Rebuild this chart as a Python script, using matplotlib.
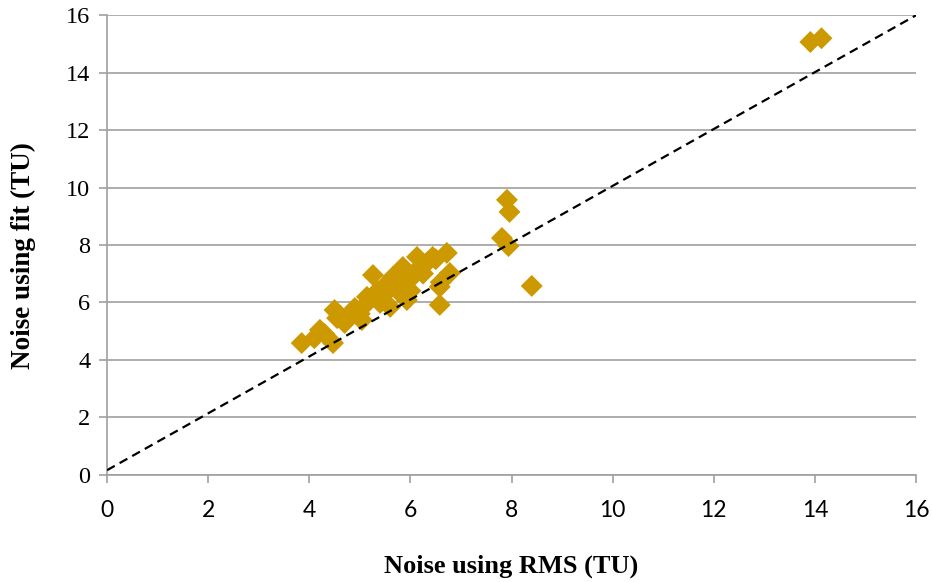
import matplotlib
matplotlib.use("Agg")
import matplotlib.pyplot as plt

# Noise estimates (TU)
rms_noise = [3.85, 4.10, 4.21, 4.30, 4.47, 4.50, 4.55, 4.60, 4.70, 4.80,
             4.86, 4.90, 5.00, 5.04, 5.10, 5.14, 5.20, 5.26, 5.30, 5.35,
             5.40, 5.45, 5.50, 5.59, 5.60, 5.65, 5.70, 5.79, 5.80, 5.85,
             5.93, 6.00, 6.05, 6.13, 6.19, 6.25, 6.32, 6.44, 6.50, 6.58,
             6.58, 6.60, 6.72, 6.78, 7.81, 7.91, 7.94, 7.96, 8.40, 13.91,
             14.13]
fit_noise = [4.58, 4.75, 5.04, 4.90, 4.58, 5.73, 5.45, 5.55, 5.28, 5.50,
             5.63, 5.80, 5.60, 5.38, 5.90, 6.19, 6.10, 6.95, 6.20, 6.40,
             5.98, 6.50, 6.30, 6.54, 5.84, 6.88, 6.70, 6.33, 6.60, 7.23,
             6.08, 6.40, 6.90, 7.58, 7.23, 7.00, 7.37, 7.58, 7.50, 6.54,
             5.91, 6.70, 7.72, 7.02, 8.24, 9.57, 7.96, 9.15, 6.57, 15.07,
             15.20]

# reference line
line_x = [0, 16]
line_y = [0.15, 16.0]

ticks = [0, 2, 4, 6, 8, 10, 12, 14, 16]

fig = plt.figure(figsize=(9.33, 5.82), dpi=100)
ax = fig.add_axes([0.1147, 0.1847, 0.8671, 0.789])

ax.scatter(rms_noise, fit_noise, marker="D", s=125, color="#CC9900",
           edgecolors="none", zorder=3)
ax.plot(line_x, line_y, color="black", linestyle=(0, (4, 2.5)), linewidth=1.6,
        zorder=4)

ax.set_xlim(0, 16)
ax.set_ylim(0, 16)
ax.set_xticks(ticks)
ax.set_yticks(ticks)
ax.grid(True, axis="y", color="#A0A0A0", linewidth=1.2, zorder=0)
ax.set_axisbelow(True)

for side in ("top", "right"):
    ax.spines[side].set_visible(False)
for side in ("left", "bottom"):
    ax.spines[side].set_color("#A0A0A0")
    ax.spines[side].set_linewidth(1.2)

ax.tick_params(axis="both", color="#A0A0A0", width=1.2, length=6)
ax.tick_params(axis="x", pad=12)
ax.tick_params(axis="y", pad=6)
for lab in ax.get_yticklabels():
    lab.set_fontfamily("Liberation Serif")
    lab.set_fontsize(17.5)
for lab in ax.get_xticklabels():
    lab.set_fontfamily("Lato")
    lab.set_fontsize(16.5)

ax.set_xlabel("Noise using RMS (TU)", fontfamily="Liberation Serif",
              fontweight="bold", fontsize=19)
ax.set_ylabel("Noise using fit (TU)", fontfamily="Liberation Serif",
              fontweight="bold", fontsize=19.5)
ax.xaxis.set_label_coords(0.5, -0.175)
ax.yaxis.set_label_coords(-0.088, 0.476)

fig.savefig("out.png", dpi=100)
